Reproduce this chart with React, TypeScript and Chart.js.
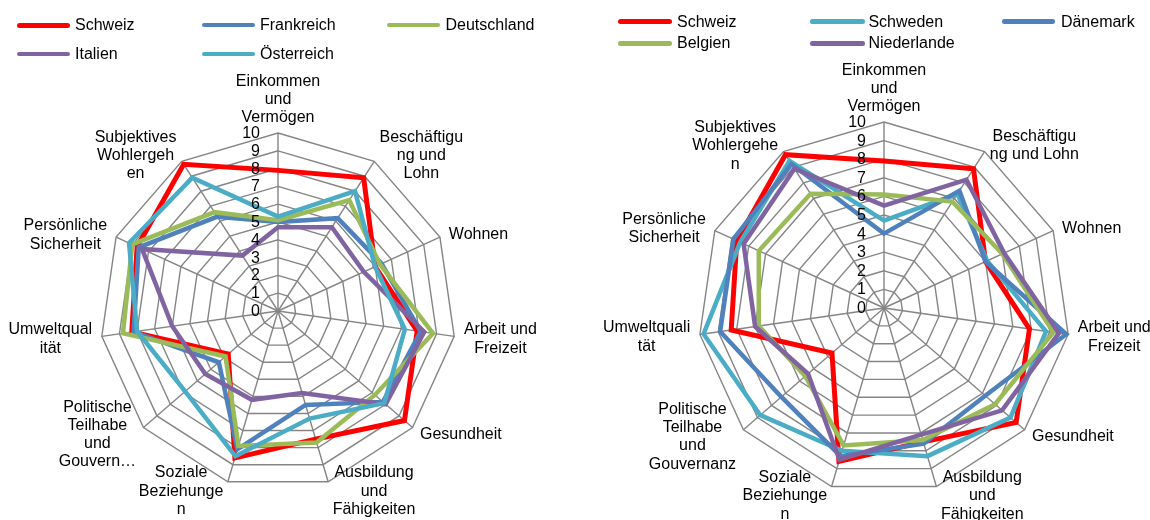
import React, { useEffect, useRef } from 'react';
import { Chart, registerables } from 'chart.js';

Chart.register(...registerables);

const FONT = '"Liberation Sans", Arial, sans-serif';

// Categories (wrapped as in the reference)
const categoriesLeft: string[][] = [
  ['Einkommen', 'und', 'Vermögen'],
  ['Beschäftigu', 'ng und', 'Lohn'],
  ['Wohnen'],
  ['Arbeit und', 'Freizeit'],
  ['Gesundheit'],
  ['Ausbildung', 'und', 'Fähigkeiten'],
  ['Soziale', 'Beziehunge', 'n'],
  ['Politische', 'Teilhabe', 'und', 'Gouvern…'],
  ['Umweltqual', 'ität'],
  ['Persönliche', 'Sicherheit'],
  ['Subjektives', 'Wohlergeh', 'en'],
];
const categoriesRight: string[][] = [
  ['Einkommen', 'und', 'Vermögen'],
  ['Beschäftigu', 'ng und Lohn'],
  ['Wohnen'],
  ['Arbeit und', 'Freizeit'],
  ['Gesundheit'],
  ['Ausbildung', 'und', 'Fähigkeiten'],
  ['Soziale', 'Beziehunge', 'n'],
  ['Politische', 'Teilhabe', 'und', 'Gouvernanz'],
  ['Umweltquali', 'tät'],
  ['Persönliche', 'Sicherheit'],
  ['Subjektives', 'Wohlergehe', 'n'],
];

const tickLabels = ['0', '1', '2', '3', '4', '5', '6', '7', '8', '9', '10'];

// Series values
const schweiz = [7.9, 8.9, 6.0, 7.9, 9.4, 7.5, 8.6, 3.7, 8.3, 8.7, 9.8];
const frankreich = [5.0, 6.2, 6.4, 8.1, 7.8, 5.5, 8.1, 4.4, 8.2, 8.6, 6.3];
const deutschland = [5.1, 7.4, 6.3, 8.8, 7.2, 7.7, 7.9, 3.9, 8.8, 9.0, 6.6];
const italien = [4.7, 5.6, 5.3, 8.3, 8.0, 4.8, 5.2, 5.4, 6.0, 8.4, 3.7];
const oesterreich = [5.3, 8.0, 6.0, 7.2, 7.9, 6.3, 8.5, 6.9, 8.0, 9.2, 8.9];

const schweden = [4.7, 7.3, 6.1, 8.8, 9.0, 8.3, 8.0, 8.8, 9.8, 8.5, 9.4];
const daenemark = [4.0, 7.5, 6.0, 9.9, 7.2, 7.6, 8.3, 7.3, 8.9, 8.9, 9.2];
const belgien = [6.1, 6.8, 7.0, 9.2, 7.9, 7.4, 7.7, 5.6, 6.8, 7.4, 7.3];
const niederlande = [5.5, 8.2, 7.1, 9.5, 8.4, 7.1, 8.5, 5.4, 7.0, 8.3, 8.9];

const RED = '#FF0000';
const BLUE = '#4F81BD';
const GREEN = '#9BBB59';
const PURPLE = '#8064A2';
const CYAN = '#4BACC6';

type Series = { name: string; data: number[]; color: string; width: number };

const seriesLeft: Series[] = [
  { name: 'Schweiz', data: schweiz, color: RED, width: 5 },
  { name: 'Frankreich', data: frankreich, color: BLUE, width: 4.5 },
  { name: 'Deutschland', data: deutschland, color: GREEN, width: 4.5 },
  { name: 'Italien', data: italien, color: PURPLE, width: 4.5 },
  { name: 'Österreich', data: oesterreich, color: CYAN, width: 4.5 },
];
const seriesRight: Series[] = [
  { name: 'Schweiz', data: schweiz, color: RED, width: 5 },
  { name: 'Schweden', data: schweden, color: CYAN, width: 4.5 },
  { name: 'Dänemark', data: daenemark, color: BLUE, width: 4.5 },
  { name: 'Belgien', data: belgien, color: GREEN, width: 4.5 },
  { name: 'Niederlande', data: niederlande, color: PURPLE, width: 4.5 },
];

const textPlugin = {
  id: 'excelText',
  afterDraw(chart: any) {
    const scale = chart.scales.r;
    const ctx = chart.ctx as CanvasRenderingContext2D;
    const labels = chart.data.labels as string[][];
    const R = scale.drawingArea;
    ctx.save();
    ctx.font = `16px ${FONT}`;
    ctx.fillStyle = '#000';
    ctx.textBaseline = 'middle';
    ctx.textAlign = 'center';
    const lh = 18.3;
    labels.forEach((lines, i) => {
      const p = scale.getPointPosition(i, R);
      const a = scale.getIndexAngle(i);
      const s = Math.sin(a);
      const c = Math.cos(a);
      const w = Math.max(...lines.map((l) => ctx.measureText(l).width));
      const h = lines.length * lh;
      const padX = Math.max(4.5, 9.8 * Math.abs(s));
      let x: number;
      let y: number;
      if (Math.abs(s) < 0.05) {
        x = p.x;
        y = p.y - 6 - h / 2;
      } else {
        x = s > 0 ? p.x + padX + w / 2 : p.x - padX - w / 2;
        y = p.y + 1.44 - 8.5 * c;
      }
      lines.forEach((l, k) => ctx.fillText(l, x, y - h / 2 + lh * (k + 0.5)));
    });
    ctx.textAlign = 'right';
    for (let v = 0; v < tickLabels.length; v++) {
      const d = scale.getDistanceFromCenterForValue(v);
      ctx.fillText(tickLabels[v], scale.xCenter - 18, scale.yCenter - d + 0.5);
    }
    ctx.restore();
  },
};

type LegendItem = { name: string; color: string; x0: number; x1: number; tx: number; y: number; w: number };

function Radar(props: { left: number; cx: number; cy: number; R: number; labels: string[][]; series: Series[] }) {
  const ref = useRef<HTMLCanvasElement>(null);
  const W = 575;
  const H = 520;
  useEffect(() => {
    const { cx, cy, R, labels, series } = props;
    const chart = new Chart(ref.current as HTMLCanvasElement, {
      type: 'radar',
      data: {
        labels: labels as any,
        datasets: series.map((s, i) => ({
          label: s.name,
          data: s.data,
          borderColor: s.color,
          backgroundColor: 'transparent',
          borderWidth: s.width,
          pointRadius: 0,
          pointHoverRadius: 0,
          fill: false,
          tension: 0,
          borderJoinStyle: 'miter',
          order: series.length - i,
        })) as any,
      },
      options: {
        responsive: false,
        animation: false,
        devicePixelRatio: 1,
        layout: { padding: { left: cx - R, right: W - cx - R, top: cy - R, bottom: H - cy - R } },
        plugins: { legend: { display: false }, tooltip: { enabled: false } },
        scales: {
          r: {
            min: 0,
            max: 10,
            ticks: { display: false, stepSize: 1 },
            pointLabels: { display: false },
            grid: { color: '#858585', lineWidth: 1.4 },
            angleLines: { color: '#858585', lineWidth: 1.4 },
          },
        },
      } as any,
      plugins: [textPlugin],
    });
    return () => chart.destroy();
  }, []);
  return (
    <canvas
      ref={ref}
      width={W}
      height={H}
      style={{ position: 'absolute', left: props.left, top: 0, width: W, height: H }}
    />
  );
}

function Legend({ items }: { items: LegendItem[] }) {
  return (
    <>
      {items.map((it) => (
        <React.Fragment key={it.name + it.x0}>
          <div
            style={{
              position: 'absolute',
              left: it.x0,
              top: it.y - it.w / 2,
              width: it.x1 - it.x0,
              height: it.w,
              borderRadius: it.w / 2,
              background: it.color,
            }}
          />
          <div
            style={{
              position: 'absolute',
              left: it.tx,
              top: it.y - 9,
              height: 18,
              lineHeight: '18px',
              font: `16px ${FONT}`,
              color: '#000',
              whiteSpace: 'nowrap',
            }}
          >
            {it.name}
          </div>
        </React.Fragment>
      ))}
    </>
  );
}

const legendColsLeft = [
  [16.5, 69.7, 75],
  [201.7, 254.9, 260],
  [386.9, 440, 445.5],
];
const legendRowsLeft = [25, 54];
const legendColsRight = [
  [618.3, 672.2, 677],
  [809.7, 864.7, 868.4],
  [1002, 1055.4, 1060.9],
];
const legendRowsRight = [21.7, 43.3];

function buildLegend(series: Series[], cols: number[][], rows: number[]): LegendItem[] {
  return series.map((s, i) => {
    const c = cols[i % 3];
    const r = rows[Math.floor(i / 3)];
    return { name: s.name, color: s.color, x0: c[0], x1: c[1], tx: c[2], y: r, w: s.width };
  });
}

export default function App() {
  return (
    <div style={{ position: 'absolute', left: 0, top: 0, width: 1150, height: 520, background: '#fff', overflow: 'hidden' }}>
      <Radar left={0} cx={278} cy={311} R={178} labels={categoriesLeft} series={seriesLeft} />
      <Radar left={575} cx={309} cy={308} R={186} labels={categoriesRight} series={seriesRight} />
      <Legend items={buildLegend(seriesLeft, legendColsLeft, legendRowsLeft)} />
      <Legend items={buildLegend(seriesRight, legendColsRight, legendRowsRight)} />
    </div>
  );
}
